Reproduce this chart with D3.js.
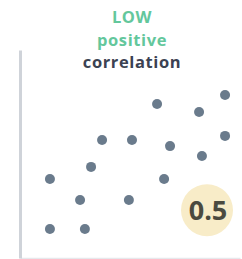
<!DOCTYPE html>
<html><head><meta charset="utf-8">
<script src="https://cdn.jsdelivr.net/npm/d3@7"></script>
<style>html,body{margin:0;padding:0;background:#fff;}svg{display:block;}</style>
</head><body>
<svg id="c" width="242" height="259"></svg>
<script>
const titleLines = ["LOW", "positive", "correlation"];
const titleColors = ["#63c79c", "#63c79c", "#3b4252"];
const xs = [1.36, 1.36, 2.73, 2.95, 3.23, 3.73, 4.95, 5.09, 6.23, 6.55, 6.82, 8.14, 8.27, 9.32, 9.32];
const ys = [3.80, 1.39, 2.79, 1.39, 4.38, 5.67, 2.79, 5.67, 7.40, 3.80, 5.38, 7.02, 4.90, 7.84, 5.87];
const coefficient = ["0.5"];

const svg = d3.select("#c");
const x = d3.scaleLinear().domain([0, 10]).range([20, 240]);
const y = d3.scaleLinear().domain([0, 10]).range([258, 50]);

svg.append("g").attr("transform", "translate(0,258)")
  .call(d3.axisBottom(x).tickValues([]).tickSizeOuter(0))
  .select(".domain").attr("stroke", "#e6e8ec").attr("stroke-width", 1.5);
svg.append("g").attr("transform", "translate(20,0)")
  .call(d3.axisLeft(y).tickValues([]).tickSizeOuter(0))
  .select(".domain").attr("stroke", "#cfd3d9").attr("stroke-width", 3);

svg.append("g").selectAll("circle").data(xs.map((d, i) => [d, ys[i]])).join("circle")
  .attr("cx", d => x(d[0])).attr("cy", d => y(d[1])).attr("r", 5)
  .attr("fill", "#6a7b8c");

const bx = x(8.5), by = y(2.3);
svg.append("circle").attr("cx", bx).attr("cy", by).attr("r", 26).attr("fill", "#f8ecc8");
svg.append("text").attr("x", bx + 1).attr("y", by + 10).attr("text-anchor", "middle")
  .attr("font-family", "Open Sans, sans-serif").attr("font-weight", 700).attr("font-size", 27)
  .attr("fill", "#4b4a3f").text(coefficient[0]);

svg.append("g").selectAll("text").data(titleLines).join("text")
  .attr("x", 132).attr("y", (d, i) => 23 + i * 22.5).attr("text-anchor", "middle")
  .attr("font-family", "Open Sans, sans-serif").attr("font-weight", 700).attr("font-size", 16.5)
  .attr("letter-spacing", 0.6)
  .attr("fill", (d, i) => titleColors[i]).text(d => d);
</script>
</body></html>
